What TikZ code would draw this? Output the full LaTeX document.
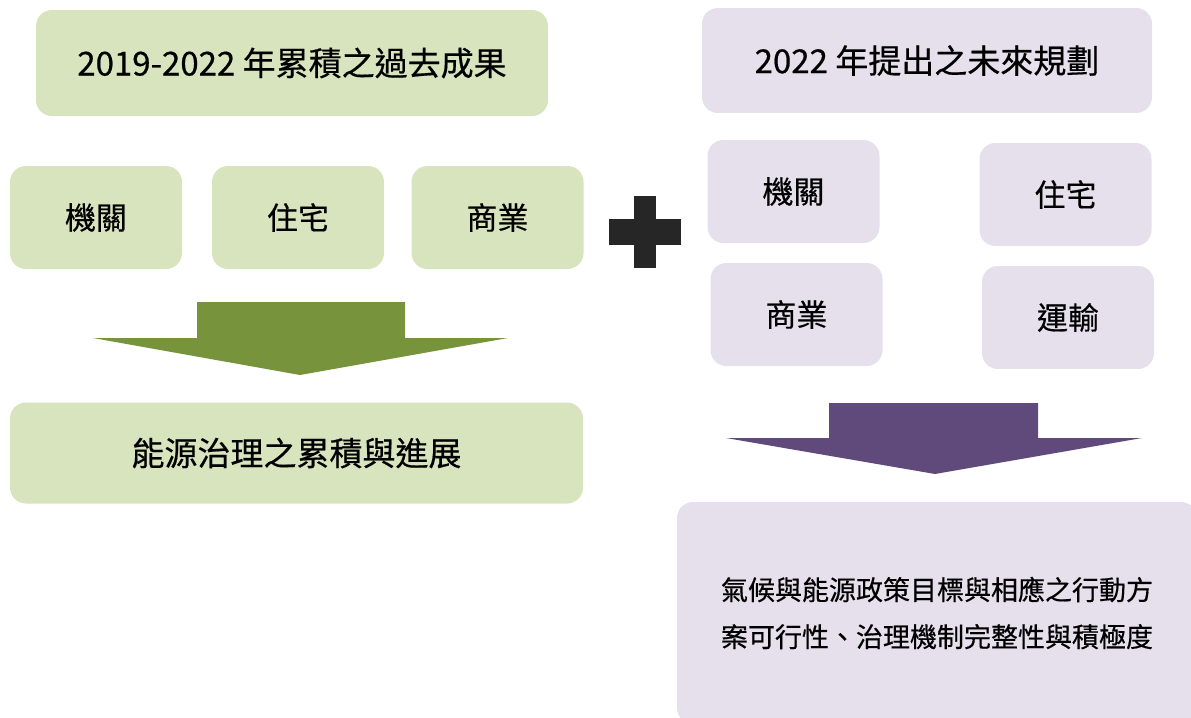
\documentclass[tikz,border=0pt]{standalone}
\usepackage{fontspec}
\setmainfont{Noto Sans CJK TC}
\newfontfamily\boxfont{Noto Sans CJK TC}[FakeBold=0.5]

\definecolor{palegreen}{HTML}{D7E4BD}
\definecolor{darkgreen}{HTML}{77933C}
\definecolor{palepurple}{HTML}{E5E0EC}
\definecolor{darkpurple}{HTML}{604A7B}
\definecolor{plusgray}{HTML}{262626}

\tikzset{
  box/.style={rounded corners=8pt,inner sep=0pt,font=\boxfont\fontsize{15.5}{18}\selectfont},
  gbox/.style={box,fill=palegreen},
  pbox/.style={box,fill=palepurple},
  sector/.style={minimum width=86pt,minimum height=51.5pt},
  headline/.style={font=\boxfont\fontsize{16.5}{20}\selectfont}
}

\begin{document}
\begin{tikzpicture}[x=0.5pt,y=-0.5pt]
    \clip(0,0)rectangle(1191,718);
    \useasboundingbox(0,0)rectangle(1191,718);

    % past results
    \node[gbox,headline,minimum width=256pt,minimum height=53pt](pasttitle)at(292,63){2019-2022 年累積之過去成果};
    \node[gbox,sector](pastgov)at(96,217.5){機關};
    \node[gbox,sector](pasthome)at(298,217.5){住宅};
    \node[gbox,sector](pastshop)at(497.5,217.5){商業};
    \fill[darkgreen](197,302)--(405,302)--(405,338)--(508,338)--(300,375)--(93,338)--(197,338)--cycle;
    \node[gbox,headline,minimum width=286.5pt,minimum height=50.5pt](pastresult)at(296.5,453){能源治理之累積與進展};

    % plus
    \fill[plusgray](609,219)rectangle(681,245);
    \fill[plusgray](634,196)rectangle(656,268);

    % future plans
    \node[pbox,headline,minimum width=225pt,minimum height=52.5pt](futtitle)at(927,60.5){2022 年提出之未來規劃};
    \node[pbox,sector](futgov)at(793.5,191.5){機關};
    \node[pbox,sector](futhome)at(1065.5,194.5){住宅};
    \node[pbox,sector](futshop)at(796.5,314.5){商業};
    \node[pbox,sector](futtrans)at(1068,317.5){運輸};
    \fill[darkpurple](829,403)--(1038,403)--(1038,438)--(1142,438)--(935,474)--(726,438)--(829,438)--cycle;
    \node[pbox,minimum width=260pt,minimum height=111pt,align=center,
          font=\boxfont\fontsize{13.5}{23.5}\selectfont](futresult)at(937,613)
          {氣候與能源政策目標與相應之行動方\\案可行性、治理機制完整性與積極度};
\end{tikzpicture}
\end{document}
